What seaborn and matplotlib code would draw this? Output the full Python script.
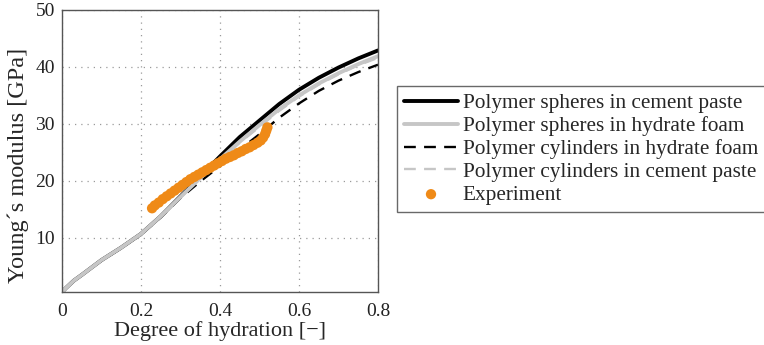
import numpy as np
import pandas as pd
import matplotlib
matplotlib.use("Agg")
import matplotlib.pyplot as plt
import seaborn as sns

# Degree of hydration grid for the model curves
alpha = [0.0, 0.01, 0.03, 0.05, 0.075, 0.1, 0.15, 0.2, 0.25, 0.3, 0.35, 0.4,
         0.45, 0.5, 0.55, 0.6, 0.65, 0.7, 0.75, 0.8]

# Young's modulus [GPa] for each micromechanical model
spheres_cement = [0.5, 1.2, 2.5, 3.5, 4.8, 6.1, 8.3, 10.7, 13.8, 17.3, 20.8, 24.3,
                  27.7, 30.6, 33.5, 36.0, 38.1, 39.9, 41.5, 42.9]
spheres_foam = [0.5, 1.2, 2.5, 3.5, 4.8, 6.1, 8.3, 10.7, 13.8, 17.2, 20.5, 23.8,
                26.9, 29.8, 32.6, 35.0, 37.1, 38.9, 40.5, 41.9]
cylinders_foam = [0.5, 1.2, 2.5, 3.5, 4.8, 6.0, 8.2, 10.6, 13.6, 17.0, 19.9, 22.6,
                  25.5, 28.2, 31.1, 33.6, 35.8, 37.6, 39.1, 40.4]
cylinders_cement = [0.5, 1.2, 2.5, 3.5, 4.8, 6.1, 8.3, 10.7, 13.8, 17.2, 20.5, 23.7,
                    26.7, 29.5, 32.3, 34.8, 36.9, 38.7, 40.3, 41.6]

# Measured values
exp_alpha = [0.228, 0.235, 0.245, 0.255, 0.265, 0.275, 0.285, 0.295, 0.305, 0.315, 0.325,
             0.335, 0.345, 0.355, 0.365, 0.375, 0.385, 0.395, 0.405, 0.415, 0.425, 0.435,
             0.445, 0.455, 0.465, 0.475, 0.485, 0.495, 0.503, 0.509, 0.514, 0.517, 0.52]
exp_E = [15.2, 15.7, 16.2, 16.8, 17.3, 17.8, 18.3, 18.8, 19.3, 19.8, 20.3,
         20.7, 21.1, 21.5, 21.9, 22.3, 22.7, 23.1, 23.5, 23.9, 24.2, 24.5,
         24.9, 25.2, 25.6, 25.9, 26.3, 26.7, 27.1, 27.6, 28.2, 28.8, 29.4]

labels = ["Polymer spheres in cement paste", "Polymer spheres in hydrate foam",
          "Polymer cylinders in hydrate foam", "Polymer cylinders in cement paste"]

sns.set_theme(style="white")
plt.rcParams["font.family"] = ["Liberation Serif", "DejaVu Serif"]

fig = plt.figure(figsize=(7.64, 3.45), dpi=100)
ax = fig.add_axes([62 / 764, 1 - 292 / 345, (378 - 62) / 764, (292 - 10) / 345])

curves = pd.DataFrame({"alpha": alpha * 4,
                       "E": spheres_cement + spheres_foam + cylinders_foam + cylinders_cement,
                       "model": sum([[l] * len(alpha) for l in labels], [])})

gray = "#c6c6c6"
styles = [dict(color="black", lw=2.8, ls="-"),
          dict(color=gray, lw=2.8, ls="-"),
          dict(color="black", lw=1.7, ls=(0, (5, 3.5))),
          dict(color=gray, lw=1.7, ls=(0, (5, 3.5)))]
for i in [0, 2, 1, 3]:
    sub = curves[curves["model"] == labels[i]]
    sns.lineplot(data=sub, x="alpha", y="E", ax=ax, label=labels[i], **styles[i])

exp = pd.DataFrame({"alpha": exp_alpha, "E": exp_E})
sns.scatterplot(data=exp, x="alpha", y="E", ax=ax, color="#ef8a17", s=55,
                edgecolor="none", label="Experiment", zorder=5)

ax.set_xlim(0, 0.8)
ax.set_ylim(0.5, 50)
ax.set_xticks([0, 0.2, 0.4, 0.6, 0.8])
ax.set_xticklabels(["0", "0.2", "0.4", "0.6", "0.8"])
ax.set_yticks([10, 20, 30, 40, 50])
ax.grid(True, linestyle=(0, (1, 4)), color="#9a9a9a", lw=0.9)
ax.tick_params(direction="in", length=4, labelsize=14, colors="#222222")
ax.tick_params(axis="x", pad=8)
ax.tick_params(axis="y", pad=5)
for s in ax.spines.values():
    s.set_color("#555555")
    s.set_linewidth(1.0)
ax.set_xlabel("Degree of hydration [\u2212]", fontsize=16, labelpad=1)
ax.set_ylabel("Young\u00b4s modulus [GPa]", fontsize=17.5, labelpad=2)
ax.yaxis.set_label_coords(-0.106, 0.45)

handles, lbls = ax.get_legend_handles_labels()
order = [lbls.index(l) for l in labels + ["Experiment"]]
# the legend box runs past the right edge of the figure
leg = ax.legend([handles[i] for i in order], [lbls[i] for i in order],
                loc="upper left", mode="expand",
                bbox_to_anchor=(397 / 764, 1 - 86 / 345, 390 / 764, 0),
                bbox_transform=fig.transFigure, fontsize=15.3, frameon=True,
                fancybox=False, edgecolor="#444444", handlelength=2.5,
                handletextpad=0.25, labelspacing=0.14, borderpad=0.35,
                borderaxespad=0)
leg.get_frame().set_linewidth(1.0)

fig.savefig("out.png", dpi=100)
